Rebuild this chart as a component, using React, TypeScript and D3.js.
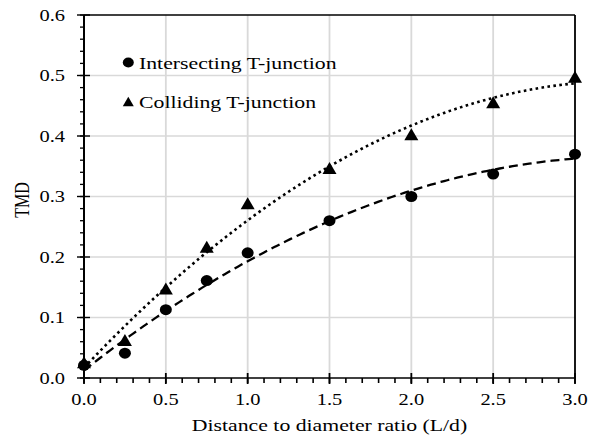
import React from 'react';
import * as d3 from 'd3';

const xValues = [0, 0.25, 0.5, 0.75, 1.0, 1.5, 2.0, 2.5, 3.0];
const intersecting = [0.021, 0.041, 0.113, 0.161, 0.207, 0.26, 0.3, 0.337, 0.37];
const colliding = [0.025, 0.062, 0.147, 0.216, 0.288, 0.346, 0.402, 0.455, 0.497];
const seriesNames = ['Intersecting T-junction', 'Colliding T-junction'];
const xTickValues = [0, 0.5, 1.0, 1.5, 2.0, 2.5, 3.0];
const yTickValues = [0, 0.1, 0.2, 0.3, 0.4, 0.5, 0.6];
const xTitle = 'Distance to diameter ratio (L/d)';
const yTitle = 'TMD';

const W = 598;
const H = 439;
const SX = 1.28; // horizontal stretch of glyphs in the reference
const FONT = "'Liberation Serif', 'Times New Roman', serif";

function quadFit(xs: number[], ys: number[]) {
  // least squares y = a + b x + c x^2
  let s0 = 0, s1 = 0, s2 = 0, s3 = 0, s4 = 0, t0 = 0, t1 = 0, t2 = 0;
  xs.forEach((x, i) => {
    const y = ys[i];
    s0 += 1; s1 += x; s2 += x * x; s3 += x * x * x; s4 += x * x * x * x;
    t0 += y; t1 += x * y; t2 += x * x * y;
  });
  const M = [
    [s0, s1, s2, t0],
    [s1, s2, s3, t1],
    [s2, s3, s4, t2],
  ];
  for (let i = 0; i < 3; i++) {
    let p = i;
    for (let r = i + 1; r < 3; r++) if (Math.abs(M[r][i]) > Math.abs(M[p][i])) p = r;
    [M[i], M[p]] = [M[p], M[i]];
    for (let r = 0; r < 3; r++) {
      if (r === i) continue;
      const f = M[r][i] / M[i][i];
      for (let c = i; c < 4; c++) M[r][c] -= f * M[i][c];
    }
  }
  const a = M[0][3] / M[0][0];
  const b = M[1][3] / M[1][1];
  const c = M[2][3] / M[2][2];
  return (x: number) => a + b * x + c * x * x;
}

function SText({ x, y, anchor = 'start', size = 16, children, rotate = 0 }: any) {
  return (
    <g transform={`translate(${x},${y}) scale(${SX},1)${rotate ? ` rotate(${rotate})` : ''}`}>
      <text x={0} y={0} textAnchor={anchor} fontFamily={FONT} fontSize={size} fill="#000">
        {children}
      </text>
    </g>
  );
}

function Tri({ cx, cy, w, h }: { cx: number; cy: number; w: number; h: number }) {
  const top = cy - h * 0.55;
  const bot = cy + h * 0.45;
  return <path d={`M${cx},${top}L${cx + w / 2},${bot}L${cx - w / 2},${bot}Z`} fill="#000" />;
}

export default function App() {
  const left = 84, right = 575, top = 15, bottom = 378;
  const x = d3.scaleLinear().domain([0, 3]).range([left, right]);
  const y = d3.scaleLinear().domain([0, 0.6]).range([bottom, top]);

  const fitI = quadFit(xValues, intersecting);
  const fitC = quadFit(xValues, colliding);
  const xs = d3.range(0, 3.0001, 0.02);
  const pathI = d3.line<number>().x((d) => x(d)).y((d) => y(fitI(d)))(xs) as string;
  const pathC = d3.line<number>().x((d) => x(d)).y((d) => y(fitC(d)))(xs) as string;

  const xMinor = d3.range(0, 3.0001, 0.1);
  const yMinor = d3.range(0, 0.6001, 0.02);

  return (
    <svg width={W} height={H} style={{ position: 'absolute', left: 0, top: 0, background: '#fff' }}>
      <rect x={0} y={0} width={W} height={H} fill="#fff" />
      {/* grid */}
      {xTickValues.slice(1, -1).map((t) => (
        <line key={'gx' + t} x1={x(t)} x2={x(t)} y1={top} y2={bottom} stroke="#d9d9d9" strokeWidth={1.8} />
      ))}
      {yTickValues.slice(1, -1).map((t) => (
        <line key={'gy' + t} x1={left} x2={right} y1={y(t)} y2={y(t)} stroke="#d9d9d9" strokeWidth={1.4} />
      ))}
      {/* frame */}
      <line x1={left} x2={right} y1={top} y2={top} stroke="#000" strokeWidth={1.4} />
      <line x1={right} x2={right} y1={top} y2={bottom} stroke="#000" strokeWidth={1.8} />
      <line x1={left} x2={right} y1={bottom} y2={bottom} stroke="#000" strokeWidth={1.6} />
      <line x1={left} x2={left} y1={top} y2={bottom} stroke="#000" strokeWidth={2} />
      {/* minor ticks */}
      {xMinor.map((t, i) => (
        <line key={'mx' + i} x1={x(t)} x2={x(t)} y1={bottom} y2={bottom + 5} stroke="#000" strokeWidth={1.6} />
      ))}
      {yMinor.map((t, i) => (
        <line key={'my' + i} x1={left - 4} x2={left} y1={y(t)} y2={y(t)} stroke="#000" strokeWidth={1.3} />
      ))}
      {/* major ticks */}
      {xTickValues.map((t) => (
        <line key={'Mx' + t} x1={x(t)} x2={x(t)} y1={bottom - 5} y2={bottom + 6} stroke="#000" strokeWidth={1.8} />
      ))}
      {yTickValues.map((t) => (
        <line key={'My' + t} x1={left - 7} x2={left + 6} y1={y(t)} y2={y(t)} stroke="#000" strokeWidth={1.4} />
      ))}
      {/* tick labels */}
      {xTickValues.map((t) => (
        <SText key={'lx' + t} x={x(t)} y={405} anchor="middle" size={16}>
          {d3.format('.1f')(t)}
        </SText>
      ))}
      {yTickValues.map((t) => (
        <SText key={'ly' + t} x={65} y={y(t) + 5.5} anchor="end" size={16}>
          {d3.format('.1f')(t)}
        </SText>
      ))}
      {/* axis titles */}
      <SText x={x(1.5)} y={431} anchor="middle" size={17}>
        {xTitle}
      </SText>
      <SText x={29} y={200} anchor="middle" size={16} rotate={-90}>
        {yTitle}
      </SText>
      {/* trendlines */}
      <path d={pathI} fill="none" stroke="#000" strokeWidth={2.3} strokeDasharray="9 5" />
      <path d={pathC} fill="none" stroke="#000" strokeWidth={2.6} strokeDasharray="2.6 3.4" />
      {/* markers */}
      {xValues.map((v, i) => (
        <ellipse key={'ci' + i} cx={x(v)} cy={y(intersecting[i])} rx={6} ry={5.5} fill="#000" />
      ))}
      {xValues.map((v, i) => (
        <Tri key={'tc' + i} cx={x(v)} cy={y(colliding[i])} w={14} h={12} />
      ))}
      {/* legend */}
      <ellipse cx={128.3} cy={62.5} rx={5.5} ry={5} fill="#000" />
      <SText x={139} y={69} size={17}>
        {seriesNames[0]}
      </SText>
      <Tri cx={128.3} cy={102} w={11} h={9.5} />
      <SText x={139} y={108} size={17}>
        {seriesNames[1]}
      </SText>
    </svg>
  );
}
